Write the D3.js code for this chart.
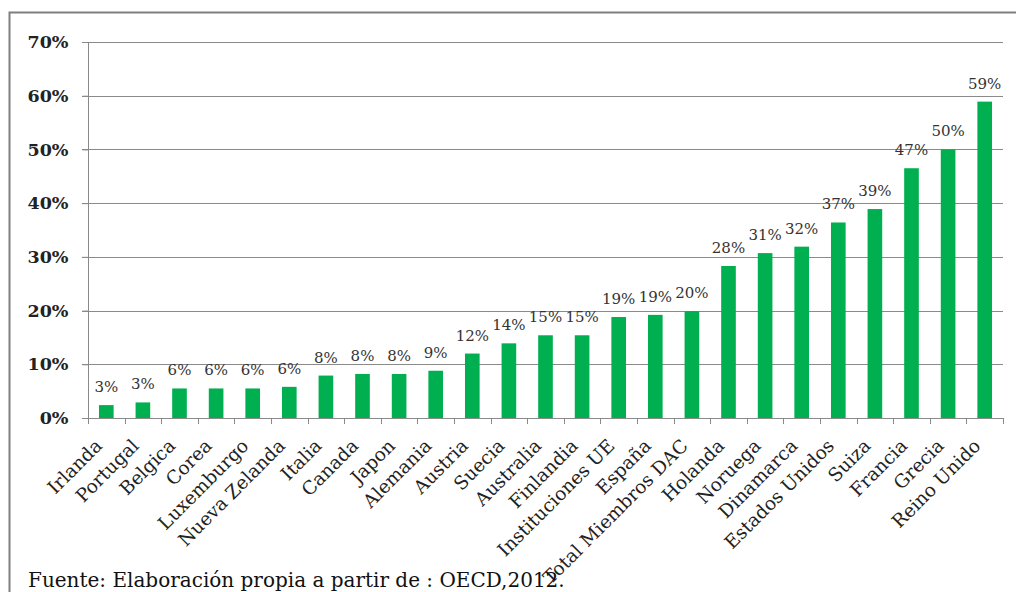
<!DOCTYPE html>
<html><head><meta charset="utf-8">
<script src="https://cdn.jsdelivr.net/npm/d3@7"></script>
<style>body{margin:0;background:#fff}svg{display:block}</style>
</head><body>
<svg id="c" width="1016" height="592"></svg>
<script>
const categories = ["Irlanda","Portugal","Belgica","Corea","Luxemburgo","Nueva Zelanda","Italia","Canada","Japon","Alemania","Austria","Suecia","Australia","Finlandia","Instituciones UE","España","Total Miembros DAC","Holanda","Noruega","Dinamarca","Estados Unidos","Suiza","Francia","Grecia","Reino Unido"];
const values = [2.4,2.9,5.5,5.5,5.5,5.8,7.9,8.2,8.2,8.8,12.0,13.9,15.4,15.4,18.8,19.2,19.9,28.3,30.7,31.9,36.4,38.9,46.5,50.0,58.9];
const labels = ["3%","3%","6%","6%","6%","6%","8%","8%","8%","9%","12%","14%","15%","15%","19%","19%","20%","28%","31%","32%","37%","39%","47%","50%","59%"];
const yTicks = [0,10,20,30,40,50,60,70];
const source = "Fuente: Elaboración propia a partir de : OECD,2012.";

const svg = d3.select("#c");
svg.append("rect").attr("x",9.5).attr("y",12.5).attr("width",1010).attr("height",600)
  .attr("fill","#fff").attr("stroke","#7f7f7f").attr("stroke-width",2);

const x = d3.scaleBand().domain(categories).range([88,1003]).paddingInner(0.6).paddingOuter(0.3);
const y = d3.scaleLinear().domain([0,70]).range([418,42]);

// gridlines
svg.append("g").selectAll("line").data(yTicks.filter(d=>d>0)).join("line")
  .attr("x1",82).attr("x2",1003).attr("y1",d=>Math.round(y(d))+0.5).attr("y2",d=>Math.round(y(d))+0.5)
  .attr("stroke","#8a8a8a").attr("stroke-width",1);

// y axis
const yAxis = svg.append("g").attr("transform","translate(88.5,0)")
  .call(d3.axisLeft(y).tickValues(yTicks).tickFormat(d=>d+"%").tickSize(6).tickPadding(14));
yAxis.select(".domain").attr("stroke","#8a8a8a").attr("d","M0,42V418");
yAxis.selectAll(".tick line").attr("stroke","#8a8a8a");
yAxis.selectAll(".tick text").attr("font-family","DejaVu Serif").attr("font-weight","bold")
  .attr("font-size",17.5).attr("fill","#222");

// bars
svg.append("g").selectAll("rect").data(values).join("rect")
  .attr("x",(d,i)=>x(categories[i])).attr("width",x.bandwidth())
  .attr("y",d=>y(d)).attr("height",d=>y(0)-y(d)).attr("fill","#00b050");

// x axis line & ticks at band boundaries
const x0 = 88;
svg.append("line").attr("x1",82).attr("x2",1003).attr("y1",418.5).attr("y2",418.5).attr("stroke","#8a8a8a");
svg.append("g").selectAll("line").data(d3.range(categories.length+1)).join("line")
  .attr("x1",i=>Math.round(x0+i*x.step())+0.5).attr("x2",i=>Math.round(x0+i*x.step())+0.5)
  .attr("y1",418).attr("y2",424).attr("stroke","#8a8a8a");

// value labels
svg.append("g").selectAll("text").data(values).join("text")
  .attr("x",(d,i)=>x(categories[i])+x.bandwidth()/2).attr("y",d=>y(d)-13)
  .attr("text-anchor","middle").attr("font-family","DejaVu Serif").attr("font-size",15)
  .attr("fill","#333").text((d,i)=>labels[i]);

// category labels
svg.append("g").selectAll("text").data(categories).join("text")
  .attr("transform",d=>`translate(${x(d)+x.bandwidth()/2-3},${447}) rotate(-45)`)
  .attr("text-anchor","end").attr("font-family","DejaVu Serif").attr("font-size",18.5)
  .attr("fill","#222").text(d=>d);

svg.append("text").attr("x",28).attr("y",587).attr("font-family","DejaVu Serif")
  .attr("font-size",20).attr("fill","#111").text(source);
</script>
</body></html>
